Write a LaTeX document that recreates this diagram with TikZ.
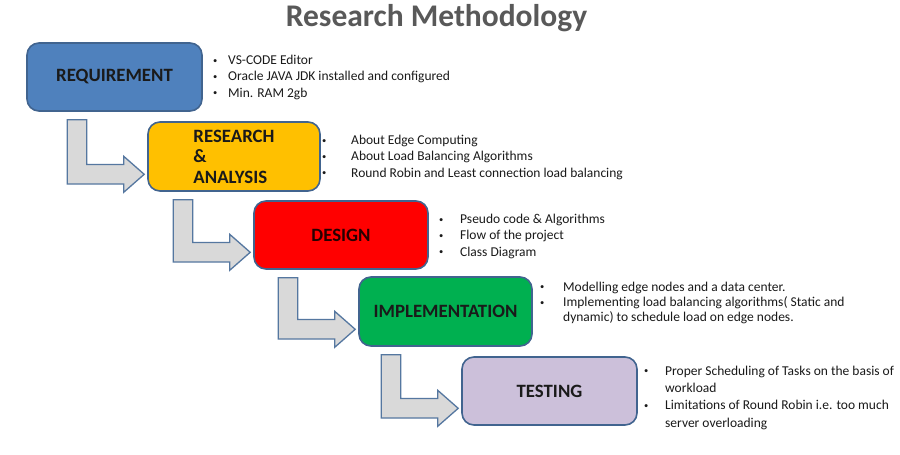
\documentclass[tikz,border=0pt]{standalone}
\usepackage{fontspec}
\setmainfont{Carlito}
\usetikzlibrary{calc}
\definecolor{boxline}{HTML}{41648F}
\definecolor{arrline}{HTML}{5577A0}
\definecolor{arrfill}{HTML}{D9D9D9}
\definecolor{cblue}{HTML}{4F81BD}
\definecolor{cyellow}{HTML}{FFC000}
\definecolor{cred}{HTML}{FF0000}
\definecolor{cgreen}{HTML}{00B050}
\definecolor{clav}{HTML}{CCC0DA}
\definecolor{boxtext}{HTML}{1A1A1A}
\definecolor{titlegray}{HTML}{595959}
\newcommand\bl[2]{\makebox[#1][l]{\raisebox{1.3pt}{\fontsize{8.5}{8.5}\selectfont\textbullet}}#2}
\newcommand\bentarrow[2]{%
  \draw[bentarr] let \p1=(#1.south west), \p2=(#2.south west) in
    (\x2-80pt,\y1-8pt) -- (\x2-60.5pt,\y1-8pt) -- (\x2-60.5pt,\y2+27.25pt)
    -- (\x2-23.5pt,\y2+27.25pt) -- (\x2-23.5pt,\y2+35.5pt) -- (\x2-3pt,\y2+17.5pt)
    -- (\x2-23.5pt,\y2-0.5pt) -- (\x2-23.5pt,\y2+7.75pt) -- (\x2-80pt,\y2+7.75pt) -- cycle;}
\begin{document}
\begin{tikzpicture}[x=1pt,y=-1pt,
  box/.style={draw=boxline, line width=1.6pt, rounded corners=12pt,
    font=\fontsize{18.8}{20.5}\selectfont\bfseries, text=boxtext, inner sep=0pt},
  bentarr/.style={draw=arrline, line width=1.3pt, fill=arrfill, line join=miter},
  blist/.style={anchor=base west, inner sep=0pt, align=left, text=boxtext,
    font=\fontsize{13.5}{16.3}\selectfont},
  titlesty/.style={anchor=base, inner sep=0pt, text=titlegray,
    font=\fontsize{31.5}{34}\selectfont\bfseries}]
\useasboundingbox (0,0) rectangle (900,455);
\fill[white] (0,0) rectangle (900,455);

\node[titlesty] (title) at (436.5,26) {Research Methodology};

\node[box, fill=cblue, minimum width=175pt, minimum height=68pt] (req) at (114.5,77) {REQUIREMENT};
\node[box, fill=cyellow, minimum width=172pt, minimum height=69pt, align=left] (ra) at (234,156.5) {RESEARCH\\\&\\ANALYSIS};
\node[box, fill=cred, minimum width=174pt, minimum height=68pt, text=black!85!red] (des) at (341,235) {DESIGN};
\node[box, fill=cgreen, minimum width=173pt, minimum height=69pt] (imp) at (445.5,311.5) {IMPLEMENTATION};
\node[box, fill=clav, minimum width=175pt, minimum height=68pt] (tst) at (549.5,391) {TESTING};

\bentarrow{req}{ra}
\bentarrow{ra}{des}
\bentarrow{des}{imp}
\bentarrow{imp}{tst}

% anchors are at the baseline of the last line
\node[blist] (reqL) at (213,97.1) {\bl{15pt}{VS-CODE Editor}\\
  \bl{15pt}{Oracle JAVA JDK installed and configured}\\
  \bl{15pt}{Min. RAM 2gb}};
\node[blist] (raL) at (322,177.1) {\bl{29pt}{About Edge Computing}\\
  \bl{29pt}{About Load Balancing Algorithms}\\
  \bl{29pt}{Round Robin and Least connection load balancing}};
\node[blist] (desL) at (439,256.1) {\bl{21pt}{Pseudo code \& Algorithms}\\
  \bl{21pt}{Flow of the project}\\
  \bl{21pt}{Class Diagram}};
\node[blist, font=\fontsize{13.5}{15.3}\selectfont] (impL) at (540,321.6) {\bl{23pt}{Modelling edge nodes and a data center.}\\
  \bl{23pt}{Implementing load balancing algorithms( Static and}\\
  \hspace*{23pt}dynamic) to schedule load on edge nodes.};
\node[blist, font=\fontsize{13.5}{17.3}\selectfont] (tstL) at (644,427) {\bl{21pt}{Proper Scheduling of Tasks on the basis of}\\
  \hspace*{21pt}workload\\
  \bl{21pt}{Limitations of Round Robin i.e. too much}\\
  \hspace*{21pt}server overloading};
\end{tikzpicture}
\end{document}
